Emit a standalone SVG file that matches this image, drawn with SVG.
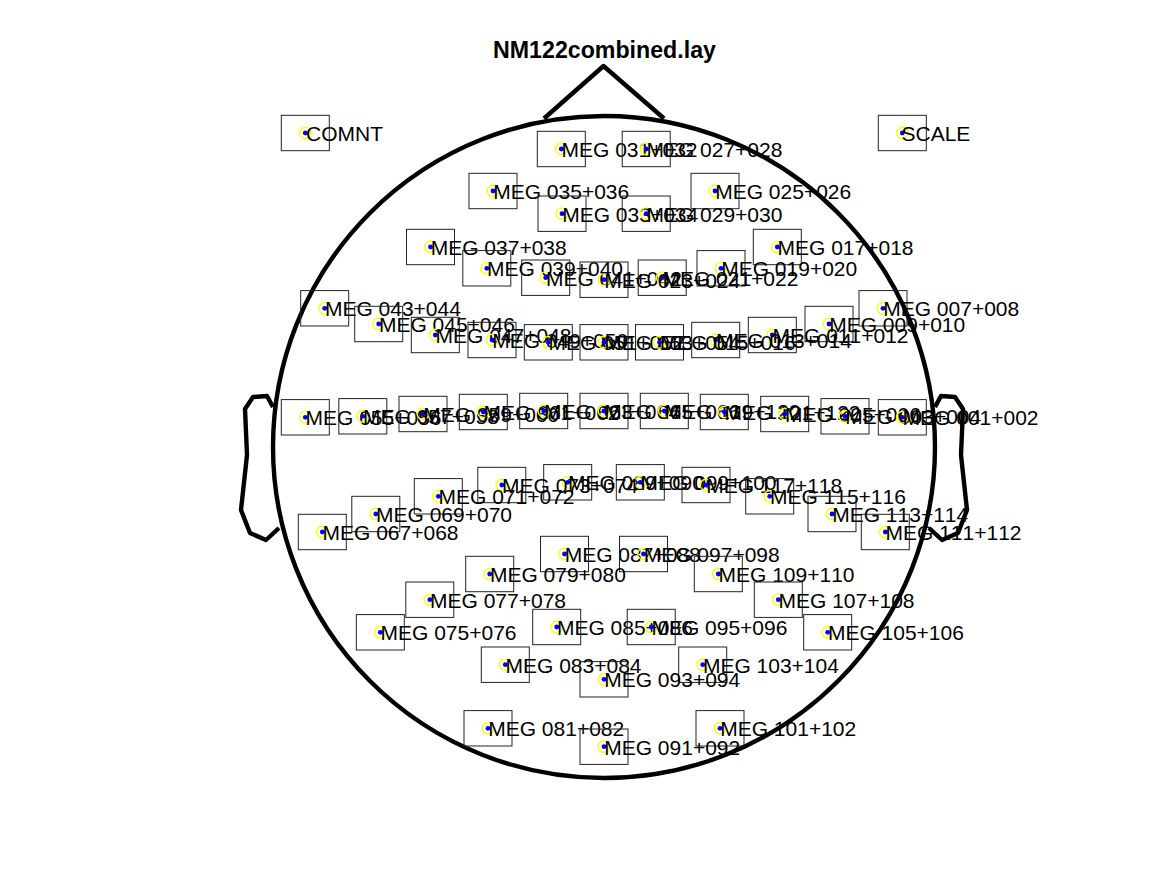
<svg xmlns="http://www.w3.org/2000/svg" xmlns:xlink="http://www.w3.org/1999/xlink" width="1167" height="875" viewBox="0 0 1167 875">
<style>
text{font-family:"Liberation Sans",Arial,sans-serif;font-size:21px;fill:#000;font-kerning:none}
.title{font-size:23.2px;font-weight:bold;text-anchor:middle}
.head{fill:none;stroke:#000;stroke-width:4.4;stroke-linejoin:round}
.box{fill:none;stroke:#222;stroke-width:1}
.ring{fill:none;stroke:#ff0;stroke-width:1.4}
.dot{fill:#00f}
</style>
<defs>
<g id="m"><rect class="box" x="-24" y="-17.7" width="48" height="35.4"/><circle class="ring" r="5.8"/><circle class="dot" r="2.4"/></g>
</defs>
<rect width="1167" height="875" fill="#fff"/>
<text class="title" x="604.5" y="57.5">NM122combined.lay</text>
<g id="head">
<circle class="head" cx="604" cy="447" r="331"/>
<path class="head" d="M544 118.5L603.5 66L664 118.5"/>
<path class="head" d="M273 407L267 396L253 397L245 409L247 455L241 510L250 533L266 540L279 528"/>
<path class="head" d="M935 407L941 396L955 397L963 409L961 455L967 510L958 533L942 540L929 528"/>
</g>
<g id="n-comnt"><use xlink:href="#m" href="#m" x="305.3" y="133"/><text x="306" y="140.8">COMNT</text></g>
<g id="n-scale"><use xlink:href="#m" href="#m" x="902.3" y="133"/><text x="901.5" y="140.8">SCALE</text></g>
<g id="n031"><use xlink:href="#m" href="#m" x="561.3" y="149"/><text x="561.5" y="156.8">MEG 031+032</text></g>
<g id="n027"><use xlink:href="#m" href="#m" x="646.2" y="149"/><text x="646.4" y="156.8">MEG 027+028</text></g>
<g id="n035"><use xlink:href="#m" href="#m" x="493" y="191"/><text x="493.2" y="198.8">MEG 035+036</text></g>
<g id="n025"><use xlink:href="#m" href="#m" x="715" y="191"/><text x="715.2" y="198.8">MEG 025+026</text></g>
<g id="n033"><use xlink:href="#m" href="#m" x="562" y="213.7"/><text x="562.2" y="221.5">MEG 033+034</text></g>
<g id="n029"><use xlink:href="#m" href="#m" x="646.2" y="213.7"/><text x="646.4" y="221.5">MEG 029+030</text></g>
<g id="n037"><use xlink:href="#m" href="#m" x="430.5" y="247"/><text x="430.7" y="254.8">MEG 037+038</text></g>
<g id="n017"><use xlink:href="#m" href="#m" x="777.3" y="247"/><text x="777.5" y="254.8">MEG 017+018</text></g>
<g id="n039"><use xlink:href="#m" href="#m" x="486.8" y="268.3"/><text x="487" y="276.1">MEG 039+040</text></g>
<g id="n019"><use xlink:href="#m" href="#m" x="721" y="268.3"/><text x="721.2" y="276.1">MEG 019+020</text></g>
<g id="n041"><use xlink:href="#m" href="#m" x="545.7" y="277.7"/><text x="545.9" y="285.5">MEG 041+042</text></g>
<g id="n021"><use xlink:href="#m" href="#m" x="662.2" y="277.7"/><text x="662.4" y="285.5">MEG 021+022</text></g>
<g id="n023"><use xlink:href="#m" href="#m" x="604" y="279.7"/><text x="604.2" y="287.5">MEG 023+024</text></g>
<g id="n043"><use xlink:href="#m" href="#m" x="324.7" y="308.3"/><text x="324.9" y="316.1">MEG 043+044</text></g>
<g id="n007"><use xlink:href="#m" href="#m" x="883" y="308.3"/><text x="883.2" y="316.1">MEG 007+008</text></g>
<g id="n045"><use xlink:href="#m" href="#m" x="378.7" y="324"/><text x="378.9" y="331.8">MEG 045+046</text></g>
<g id="n009"><use xlink:href="#m" href="#m" x="829" y="324"/><text x="829.2" y="331.8">MEG 009+010</text></g>
<g id="n047"><use xlink:href="#m" href="#m" x="435.3" y="335"/><text x="435.5" y="342.8">MEG 047+048</text></g>
<g id="n011"><use xlink:href="#m" href="#m" x="772.3" y="335"/><text x="772.5" y="342.8">MEG 011+012</text></g>
<g id="n049"><use xlink:href="#m" href="#m" x="492" y="340"/><text x="492.2" y="347.8">MEG 049+050</text></g>
<g id="n013"><use xlink:href="#m" href="#m" x="715.7" y="340"/><text x="715.9" y="347.8">MEG 013+014</text></g>
<g id="n051"><use xlink:href="#m" href="#m" x="548.3" y="342.3"/><text x="548.5" y="350.1">MEG 051+052</text></g>
<g id="n053"><use xlink:href="#m" href="#m" x="604" y="342.3"/><text x="604.2" y="350.1">MEG 053+054</text></g>
<g id="n015"><use xlink:href="#m" href="#m" x="659.5" y="342.3"/><text x="659.7" y="350.1">MEG 015+016</text></g>
<g id="n055"><use xlink:href="#m" href="#m" x="305.3" y="417.3"/><text x="305.5" y="425.1">MEG 055+056</text></g>
<g id="n057"><use xlink:href="#m" href="#m" x="362.8" y="416.3"/><text x="363" y="424.1">MEG 057+058</text></g>
<g id="n059"><use xlink:href="#m" href="#m" x="423" y="414"/><text x="423.2" y="421.8">MEG 059+060</text></g>
<g id="n061"><use xlink:href="#m" href="#m" x="483.3" y="412"/><text x="483.5" y="419.8">MEG 061+062</text></g>
<g id="n063"><use xlink:href="#m" href="#m" x="543.7" y="411"/><text x="543.9" y="418.8">MEG 063+064</text></g>
<g id="n065"><use xlink:href="#m" href="#m" x="604" y="411"/><text x="604.2" y="418.8">MEG 065+066</text></g>
<g id="n119"><use xlink:href="#m" href="#m" x="664.3" y="411"/><text x="664.5" y="418.8">MEG 119+120</text></g>
<g id="n121"><use xlink:href="#m" href="#m" x="724.3" y="412"/><text x="724.5" y="419.8">MEG 121+122</text></g>
<g id="n005"><use xlink:href="#m" href="#m" x="784.7" y="414"/><text x="784.9" y="421.8">MEG 005+006</text></g>
<g id="n003"><use xlink:href="#m" href="#m" x="845" y="416.3"/><text x="845.2" y="424.1">MEG 003+004</text></g>
<g id="n001"><use xlink:href="#m" href="#m" x="902.3" y="417.3"/><text x="902.5" y="425.1">MEG 001+002</text></g>
<g id="n089"><use xlink:href="#m" href="#m" x="567.7" y="482.3"/><text x="567.9" y="490.1">MEG 089+090</text></g>
<g id="n099"><use xlink:href="#m" href="#m" x="640.3" y="482.3"/><text x="640.5" y="490.1">MEG 099+100</text></g>
<g id="n073"><use xlink:href="#m" href="#m" x="501.8" y="485"/><text x="502" y="492.8">MEG 073+074</text></g>
<g id="n117"><use xlink:href="#m" href="#m" x="706" y="485"/><text x="706.2" y="492.8">MEG 117+118</text></g>
<g id="n071"><use xlink:href="#m" href="#m" x="438.3" y="496.3"/><text x="438.5" y="504.1">MEG 071+072</text></g>
<g id="n115"><use xlink:href="#m" href="#m" x="769.7" y="496.3"/><text x="769.9" y="504.1">MEG 115+116</text></g>
<g id="n069"><use xlink:href="#m" href="#m" x="375.8" y="514"/><text x="376" y="521.8">MEG 069+070</text></g>
<g id="n113"><use xlink:href="#m" href="#m" x="832" y="514"/><text x="832.2" y="521.8">MEG 113+114</text></g>
<g id="n067"><use xlink:href="#m" href="#m" x="322.3" y="532"/><text x="322.5" y="539.8">MEG 067+068</text></g>
<g id="n111"><use xlink:href="#m" href="#m" x="885.3" y="532"/><text x="885.5" y="539.8">MEG 111+112</text></g>
<g id="n087"><use xlink:href="#m" href="#m" x="564.5" y="554"/><text x="564.7" y="561.8">MEG 087+088</text></g>
<g id="n097"><use xlink:href="#m" href="#m" x="643.5" y="554"/><text x="643.7" y="561.8">MEG 097+098</text></g>
<g id="n079"><use xlink:href="#m" href="#m" x="489.7" y="574"/><text x="489.9" y="581.8">MEG 079+080</text></g>
<g id="n109"><use xlink:href="#m" href="#m" x="718.3" y="574"/><text x="718.5" y="581.8">MEG 109+110</text></g>
<g id="n077"><use xlink:href="#m" href="#m" x="429.8" y="599.7"/><text x="430" y="607.5">MEG 077+078</text></g>
<g id="n107"><use xlink:href="#m" href="#m" x="778.3" y="599.7"/><text x="778.5" y="607.5">MEG 107+108</text></g>
<g id="n085"><use xlink:href="#m" href="#m" x="556.7" y="627"/><text x="556.9" y="634.8">MEG 085+086</text></g>
<g id="n095"><use xlink:href="#m" href="#m" x="651.2" y="627"/><text x="651.4" y="634.8">MEG 095+096</text></g>
<g id="n075"><use xlink:href="#m" href="#m" x="380.3" y="632.3"/><text x="380.5" y="640.1">MEG 075+076</text></g>
<g id="n105"><use xlink:href="#m" href="#m" x="827.7" y="632.3"/><text x="827.9" y="640.1">MEG 105+106</text></g>
<g id="n083"><use xlink:href="#m" href="#m" x="505.3" y="664.7"/><text x="505.5" y="672.5">MEG 083+084</text></g>
<g id="n103"><use xlink:href="#m" href="#m" x="702.7" y="664.7"/><text x="702.9" y="672.5">MEG 103+104</text></g>
<g id="n093"><use xlink:href="#m" href="#m" x="604" y="679.3"/><text x="604.2" y="687.1">MEG 093+094</text></g>
<g id="n081"><use xlink:href="#m" href="#m" x="488" y="728.3"/><text x="488.2" y="736.1">MEG 081+082</text></g>
<g id="n101"><use xlink:href="#m" href="#m" x="720" y="728.3"/><text x="720.2" y="736.1">MEG 101+102</text></g>
<g id="n091"><use xlink:href="#m" href="#m" x="604" y="746.7"/><text x="604.2" y="754.5">MEG 091+092</text></g>
</svg>
